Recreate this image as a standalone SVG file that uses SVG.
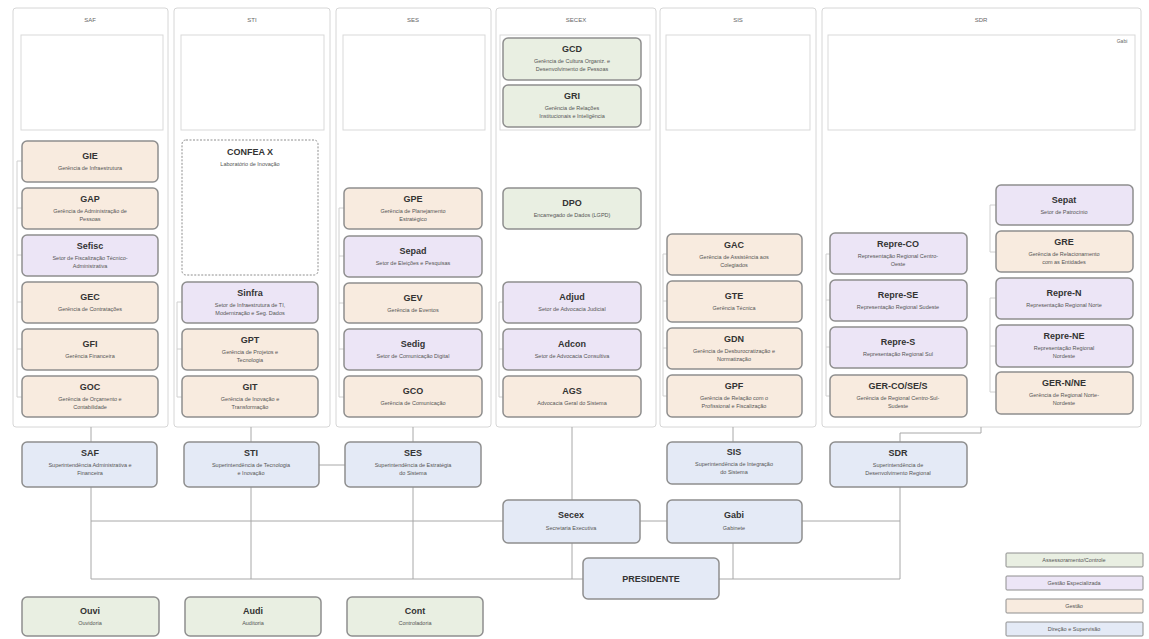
<svg xmlns="http://www.w3.org/2000/svg" width="1149" height="639" viewBox="0 0 1149 639">
<style>
text{font-family:"Liberation Sans",Arial,sans-serif;text-anchor:middle}
.col{fill:#fff;stroke:#d6d6d6;stroke-width:1}
.sub{fill:none;stroke:#d9d9d9;stroke-width:1}
.hd{font-size:6px;fill:#666}
.bx{stroke:#8e8e8e;stroke-width:1.5}
.g{fill:#e9efe2}
.p{fill:#ece5f6}
.o{fill:#f8ebdf}
.b{fill:#e4eaf6}
.t{font-size:9px;font-weight:bold;fill:#333}
.s{font-size:5.5px;fill:#555}
.ln{fill:none;stroke:#a8a8a8;stroke-width:1}
.fl{fill:none;stroke:#d0d0d0;stroke-width:1}
.lg{font-size:5.5px;fill:#555}
</style>

<g id="columns">
  <rect class="col" x="13" y="8" width="155" height="419" rx="3"/>
  <rect class="sub" x="21" y="35" width="142" height="95"/>
  <text class="hd" x="90" y="22">SAF</text>
  <rect class="col" x="174" y="8" width="156" height="419" rx="3"/>
  <rect class="sub" x="181" y="35" width="143" height="95"/>
  <text class="hd" x="252" y="22">STI</text>
  <rect class="col" x="336" y="8" width="155" height="419" rx="3"/>
  <rect class="sub" x="343" y="35" width="142" height="95"/>
  <text class="hd" x="413" y="22">SES</text>
  <rect class="col" x="496" y="8" width="160" height="419" rx="3"/>
  <rect class="sub" x="500" y="35" width="150" height="95"/>
  <text class="hd" x="576" y="22">SECEX</text>
  <rect class="col" x="660" y="8" width="156" height="419" rx="3"/>
  <rect class="sub" x="666" y="35" width="144" height="95"/>
  <text class="hd" x="738" y="22">SIS</text>
  <rect class="col" x="822" y="8" width="319" height="419" rx="3"/>
  <rect class="sub" x="828" y="35" width="307" height="95"/>
  <text class="hd" x="981" y="22">SDR</text>
  <text class="hd" x="1122" y="43" style="font-size:5px">Gabi</text>
</g>

<g id="connectors">
  <path class="fl" d="M17,161 V397 M17,161 H22 M17,208 H22 M17,255 H22 M17,302 H22 M17,349 H22 M17,397 H22"/>
  <path class="fl" d="M177,302 V397 M177,302 H182 M177,349 H182 M177,397 H182"/>
  <path class="fl" d="M339,208 V397 M339,208 H344 M339,256 H344 M339,303 H344 M339,349 H344 M339,397 H344"/>
  <path class="fl" d="M499,302 V397 M499,302 H503 M499,349 H503 M499,397 H503"/>
  <path class="fl" d="M663,254 V396 M663,254 H667 M663,301 H667 M663,348 H667 M663,396 H667"/>
  <path class="fl" d="M826,254 V396 M826,254 H830 M826,300 H830 M826,347 H830 M826,396 H830"/>
  <path class="fl" d="M990,205 V252 M990,205 H996 M990,252 H996 M990,298 V392 M990,298 H996 M990,346 H996 M990,392 H996"/>
  <path class="ln" d="M91,427 V442 M251,427 V442 M413,427 V442 M572,427 V500 M733,427 V442 M981,427 V433 H900 V442"/>
  <path class="ln" d="M319,465 H345"/>
  <path class="ln" d="M91,487 V579 M251,487 V579 M413,487 V579 M900,487 V579 M572,543 V579 M733,543 V579"/>
  <path class="ln" d="M91,521 H503 M640,521 H667 M802,521 H900"/>
  <path class="ln" d="M91,579 H583 M719,579 H900"/>
</g>

<!-- SAF column -->
<g id="GIE"><rect class="bx o" x="22" y="141" width="136" height="41" rx="5"/><text class="t" x="90" y="159">GIE</text><text class="s" x="90" y="170">Gerência de Infraestrutura</text></g>
<g id="GAP"><rect class="bx o" x="22" y="188" width="136" height="41" rx="5"/><text class="t" x="90" y="202">GAP</text><text class="s" x="90" y="213">Gerência de Administração de</text><text class="s" x="90" y="221">Pessoas</text></g>
<g id="Sefisc"><rect class="bx p" x="22" y="235" width="136" height="41" rx="5"/><text class="t" x="90" y="249">Sefisc</text><text class="s" x="90" y="260">Setor de Fiscalização Técnico-</text><text class="s" x="90" y="268">Administrativa</text></g>
<g id="GEC"><rect class="bx o" x="22" y="282" width="136" height="41" rx="5"/><text class="t" x="90" y="300">GEC</text><text class="s" x="90" y="311">Gerência de Contratações</text></g>
<g id="GFI"><rect class="bx o" x="22" y="329" width="136" height="41" rx="5"/><text class="t" x="90" y="347">GFI</text><text class="s" x="90" y="358">Gerência Financeira</text></g>
<g id="GOC"><rect class="bx o" x="22" y="376" width="136" height="41" rx="5"/><text class="t" x="90" y="390">GOC</text><text class="s" x="90" y="401">Gerência de Orçamento e</text><text class="s" x="90" y="409">Contabilidade</text></g>

<!-- STI column -->
<g id="CONFEAX"><rect x="182" y="140" width="136" height="135" rx="4" fill="#fff" stroke="#8e8e8e" stroke-width="1" stroke-dasharray="2,1.5"/><text class="t" x="250" y="155">CONFEA X</text><text class="s" x="250" y="166">Laboratório de Inovação</text></g>
<g id="Sinfra"><rect class="bx p" x="182" y="282" width="136" height="41" rx="5"/><text class="t" x="250" y="296">Sinfra</text><text class="s" x="250" y="307">Setor de Infraestrutura de TI,</text><text class="s" x="250" y="315">Modernização e Seg. Dados</text></g>
<g id="GPT"><rect class="bx o" x="182" y="329" width="136" height="41" rx="5"/><text class="t" x="250" y="343">GPT</text><text class="s" x="250" y="354">Gerência de Projetos e</text><text class="s" x="250" y="362">Tecnologia</text></g>
<g id="GIT"><rect class="bx o" x="182" y="376" width="136" height="41" rx="5"/><text class="t" x="250" y="390">GIT</text><text class="s" x="250" y="401">Gerência de Inovação e</text><text class="s" x="250" y="409">Transformação</text></g>

<!-- SES column -->
<g id="GPE"><rect class="bx o" x="344" y="188" width="138" height="41" rx="5"/><text class="t" x="413" y="202">GPE</text><text class="s" x="413" y="213">Gerência de Planejamento</text><text class="s" x="413" y="221">Estratégico</text></g>
<g id="Sepad"><rect class="bx p" x="344" y="236" width="138" height="41" rx="5"/><text class="t" x="413" y="254">Sepad</text><text class="s" x="413" y="265">Setor de Eleições e Pesquisas</text></g>
<g id="GEV"><rect class="bx o" x="344" y="283" width="138" height="40" rx="5"/><text class="t" x="413" y="301">GEV</text><text class="s" x="413" y="312">Gerência de Eventos</text></g>
<g id="Sedig"><rect class="bx p" x="344" y="329" width="138" height="41" rx="5"/><text class="t" x="413" y="347">Sedig</text><text class="s" x="413" y="358">Setor de Comunicação Digital</text></g>
<g id="GCO"><rect class="bx o" x="344" y="376" width="138" height="41" rx="5"/><text class="t" x="413" y="394">GCO</text><text class="s" x="413" y="405">Gerência de Comunicação</text></g>

<!-- SECEX column -->
<g id="GCD"><rect class="bx g" x="503" y="38" width="138" height="42" rx="5"/><text class="t" x="572" y="52">GCD</text><text class="s" x="572" y="63">Gerência de Cultura Organiz. e</text><text class="s" x="572" y="71">Desenvolvimento de Pessoas</text></g>
<g id="GRI"><rect class="bx g" x="503" y="85" width="138" height="42" rx="5"/><text class="t" x="572" y="99">GRI</text><text class="s" x="572" y="110">Gerência de Relações</text><text class="s" x="572" y="118">Institucionais e Inteligência</text></g>
<g id="DPO"><rect class="bx g" x="503" y="188" width="138" height="41" rx="5"/><text class="t" x="572" y="206">DPO</text><text class="s" x="572" y="217">Encarregado de Dados (LGPD)</text></g>
<g id="Adjud"><rect class="bx p" x="503" y="282" width="138" height="41" rx="5"/><text class="t" x="572" y="300">Adjud</text><text class="s" x="572" y="311">Setor de  Advocacia Judicial</text></g>
<g id="Adcon"><rect class="bx p" x="503" y="329" width="138" height="41" rx="5"/><text class="t" x="572" y="347">Adcon</text><text class="s" x="572" y="358">Setor de Advocacia Consultiva</text></g>
<g id="AGS"><rect class="bx o" x="503" y="376" width="138" height="41" rx="5"/><text class="t" x="572" y="394">AGS</text><text class="s" x="572" y="405">Advocacia Geral do Sistema</text></g>

<!-- SIS column -->
<g id="GAC"><rect class="bx o" x="667" y="234" width="135" height="41" rx="5"/><text class="t" x="734" y="248">GAC</text><text class="s" x="734" y="259">Gerência de Assistência aos</text><text class="s" x="734" y="267">Colegiados</text></g>
<g id="GTE"><rect class="bx o" x="667" y="281" width="135" height="41" rx="5"/><text class="t" x="734" y="299">GTE</text><text class="s" x="734" y="310">Gerência Técnica</text></g>
<g id="GDN"><rect class="bx o" x="667" y="328" width="135" height="41" rx="5"/><text class="t" x="734" y="342">GDN</text><text class="s" x="734" y="353">Gerência de Desburocratização e</text><text class="s" x="734" y="361">Normatização</text></g>
<g id="GPF"><rect class="bx o" x="667" y="375" width="135" height="42" rx="5"/><text class="t" x="734" y="389">GPF</text><text class="s" x="734" y="400">Gerência de Relação com o</text><text class="s" x="734" y="408">Profissional e Fiscalização</text></g>

<!-- SDR column -->
<g id="Repre-CO"><rect class="bx p" x="830" y="233" width="137" height="41" rx="5"/><text class="t" x="898" y="247">Repre-CO</text><text class="s" x="898" y="258">Representação Regional Centro-</text><text class="s" x="898" y="266">Oeste</text></g>
<g id="Repre-SE"><rect class="bx p" x="830" y="280" width="137" height="41" rx="5"/><text class="t" x="898" y="298">Repre-SE</text><text class="s" x="898" y="309">Representação Regional Sudeste</text></g>
<g id="Repre-S"><rect class="bx p" x="830" y="327" width="137" height="41" rx="5"/><text class="t" x="898" y="345">Repre-S</text><text class="s" x="898" y="356">Representação Regional Sul</text></g>
<g id="GER-CO-SE-S"><rect class="bx o" x="830" y="375" width="137" height="42" rx="5"/><text class="t" x="898" y="389">GER-CO/SE/S</text><text class="s" x="898" y="400">Gerência de Regional Centro-Sul-</text><text class="s" x="898" y="408">Sudeste</text></g>
<g id="Sepat"><rect class="bx p" x="996" y="185" width="137" height="40" rx="5"/><text class="t" x="1064" y="203">Sepat</text><text class="s" x="1064" y="214">Setor de  Patrocínio</text></g>
<g id="GRE"><rect class="bx o" x="996" y="231" width="137" height="41" rx="5"/><text class="t" x="1064" y="245">GRE</text><text class="s" x="1064" y="256">Gerência de Relacionamento</text><text class="s" x="1064" y="264">com as Entidades</text></g>
<g id="Repre-N"><rect class="bx p" x="996" y="278" width="137" height="41" rx="5"/><text class="t" x="1064" y="296">Repre-N</text><text class="s" x="1064" y="307">Representação Regional Norte</text></g>
<g id="Repre-NE"><rect class="bx p" x="996" y="325" width="137" height="42" rx="5"/><text class="t" x="1064" y="339">Repre-NE</text><text class="s" x="1064" y="350">Representação Regional</text><text class="s" x="1064" y="358">Nordeste</text></g>
<g id="GER-N-NE"><rect class="bx o" x="996" y="372" width="137" height="42" rx="5"/><text class="t" x="1064" y="386">GER-N/NE</text><text class="s" x="1064" y="397">Gerência de Regional Norte-</text><text class="s" x="1064" y="405">Nordeste</text></g>

<!-- Superintendências -->
<g id="SAF"><rect class="bx b" x="22" y="442" width="135" height="45" rx="5"/><text class="t" x="90" y="456">SAF</text><text class="s" x="90" y="467">Superintendência Administrativa e</text><text class="s" x="90" y="475">Financeira</text></g>
<g id="STI"><rect class="bx b" x="184" y="442" width="135" height="45" rx="5"/><text class="t" x="251" y="456">STI</text><text class="s" x="251" y="467">Superintendência de Tecnologia</text><text class="s" x="251" y="475">e Inovação</text></g>
<g id="SES"><rect class="bx b" x="345" y="442" width="136" height="45" rx="5"/><text class="t" x="413" y="456">SES</text><text class="s" x="413" y="467">Superintendência de Estratégia</text><text class="s" x="413" y="475">do Sistema</text></g>
<g id="SIS"><rect class="bx b" x="667" y="442" width="135" height="42" rx="5"/><text class="t" x="734" y="455">SIS</text><text class="s" x="734" y="466">Superintendência de Integração</text><text class="s" x="734" y="474">do Sistema</text></g>
<g id="SDR"><rect class="bx b" x="830" y="442" width="137" height="45" rx="5"/><text class="t" x="898" y="456">SDR</text><text class="s" x="898" y="467">Superintendência de</text><text class="s" x="898" y="475">Desenvolvimento Regional</text></g>

<g id="Secex"><rect class="bx b" x="503" y="500" width="137" height="43" rx="5"/><text class="t" x="571" y="518">Secex</text><text class="s" x="571" y="530">Secretaria Executiva</text></g>
<g id="Gabi"><rect class="bx b" x="667" y="500" width="135" height="43" rx="5"/><text class="t" x="734" y="518">Gabi</text><text class="s" x="734" y="530">Gabinete</text></g>
<g id="PRESIDENTE"><rect class="bx b" x="583" y="558" width="136" height="41" rx="5"/><text class="t" x="651" y="582">PRESIDENTE</text></g>

<g id="Ouvi"><rect class="bx g" x="22" y="597" width="137" height="39" rx="5"/><text class="t" x="90" y="614">Ouvi</text><text class="s" x="90" y="625">Ouvidoria</text></g>
<g id="Audi"><rect class="bx g" x="185" y="597" width="136" height="39" rx="5"/><text class="t" x="253" y="614">Audi</text><text class="s" x="253" y="625">Auditoria</text></g>
<g id="Cont"><rect class="bx g" x="347" y="597" width="136" height="39" rx="5"/><text class="t" x="415" y="614">Cont</text><text class="s" x="415" y="625">Controladoria</text></g>

<g id="legend">
  <rect class="bx g" x="1006" y="553" width="137" height="14" rx="1" style="stroke-width:1"/><text class="lg" x="1074" y="562">Assessoramento/Controle</text>
  <rect class="bx p" x="1006" y="576" width="137" height="14" rx="1" style="stroke-width:1"/><text class="lg" x="1074" y="585">Gestão Especializada</text>
  <rect class="bx o" x="1006" y="599" width="137" height="14" rx="1" style="stroke-width:1"/><text class="lg" x="1074" y="608">Gestão</text>
  <rect class="bx b" x="1006" y="622" width="137" height="14" rx="1" style="stroke-width:1"/><text class="lg" x="1074" y="631">Direção e Supervisão</text>
</g>
</svg>
